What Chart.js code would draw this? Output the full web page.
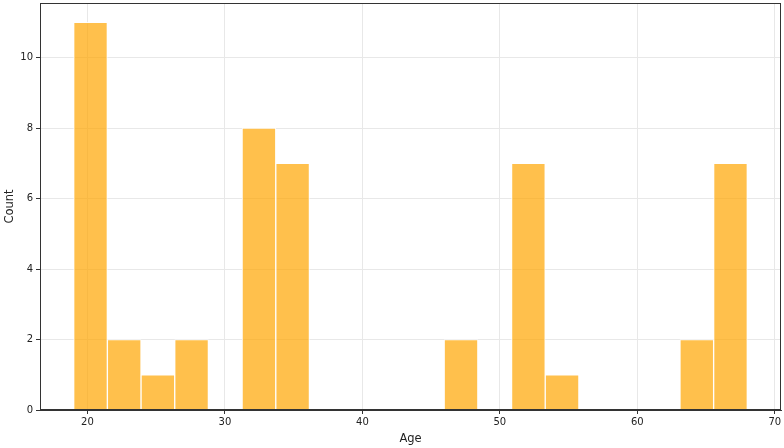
<!DOCTYPE html>
<html>
<head>
<meta charset="utf-8">
<script src="https://cdn.jsdelivr.net/npm/chart.js@4/dist/chart.umd.min.js"></script>
<style>
  html, body { margin: 0; padding: 0; background: #fff; }
  #wrap { width: 784px; height: 448px; }
</style>
</head>
<body>
<div id="wrap"><canvas id="c" width="784" height="448"></canvas></div>
<script>
// Histogram bins: 20 bins of width 2.45 from 19 to 68
const binStart = 19;
const binWidth = 2.45;
const counts = [11, 2, 1, 2, 0, 8, 7, 0, 0, 0, 0, 2, 0, 7, 1, 0, 0, 0, 2, 7];
const xTicks = [20, 30, 40, 50, 60, 70];
const yTicks = [0, 2, 4, 6, 8, 10];
const xLabel = 'Age';
const yLabel = 'Count';

const points = counts.map((c, i) => ({ x: binStart + binWidth * (i + 0.5), y: c }));

const frame = {
  id: 'frame',
  afterDraw(chart) {
    const { ctx, chartArea: a } = chart;
    ctx.save();
    ctx.strokeStyle = '#333';
    ctx.lineWidth = 1;
    ctx.strokeRect(a.left + 0.5, a.top + 0.5, a.right - a.left - 1, a.bottom - a.top - 1);
    ctx.restore();
  }
};

Chart.defaults.font.family = 'DejaVu Sans';
Chart.defaults.font.size = 10;
Chart.defaults.color = '#222';

new Chart(document.getElementById('c'), {
  type: 'bar',
  data: {
    datasets: [{
      data: points,
      backgroundColor: 'rgba(255,165,0,0.7)',
      borderColor: 'rgba(255,255,255,0.8)',
      borderWidth: 1,
      barPercentage: 1,
      categoryPercentage: 1
    }]
  },
  options: {
    responsive: false,
    animation: false,
    layout: { padding: { left: 3, right: 3, top: 3, bottom: 0 } },
    plugins: { legend: { display: false }, tooltip: { enabled: false } },
    scales: {
      x: {
        type: 'linear',
        offset: false,
        min: 16.55,
        max: 70.45,
        afterBuildTicks(s) { s.ticks = xTicks.map(v => ({ value: v })); },
        afterFit(s) { s.height = 38; s.paddingLeft = 0; s.paddingRight = 0; },
        ticks: { padding: 2, color: '#222', font: { size: 10 } },
        grid: { color: '#e8e8e8', tickColor: '#333', tickLength: 4, offset: false },
        border: { color: '#333' },
        title: { display: true, text: xLabel, color: '#222', font: { size: 11.5 }, padding: { top: 1, bottom: 2 } }
      },
      y: {
        min: 0,
        max: 11.55,
        afterBuildTicks(s) { s.ticks = yTicks.map(v => ({ value: v })); },
        afterFit(s) { s.width = 37; s.paddingTop = 0; s.paddingBottom = 0; },
        ticks: { padding: 3, color: '#222', font: { size: 10 } },
        grid: { color: '#e8e8e8', tickColor: '#333', tickLength: 4 },
        border: { color: '#333' },
        title: { display: true, text: yLabel, color: '#222', font: { size: 11.5 }, padding: { top: 0, bottom: 0 } }
      }
    }
  },
  plugins: [frame]
});
</script>
</body>
</html>
